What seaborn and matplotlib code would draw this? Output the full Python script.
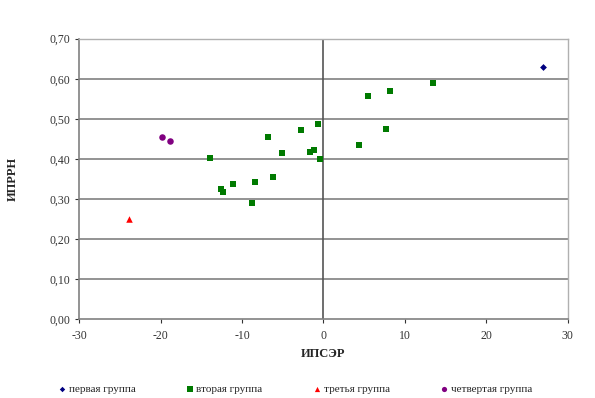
import pandas as pd
import numpy as np
import matplotlib.pyplot as plt
import matplotlib.ticker as mticker
import seaborn as sns

# --- данные ---
groups = ['первая группа', 'вторая группа', 'третья группа', 'четвертая группа']

x_first = [27.0]
y_first = [0.63]

x_second = [-13.9, -12.6, -12.3, -11.1, -8.75, -8.4, -6.8, -6.2, -5.1, -2.7,
            -1.6, -1.2, -0.7, -0.4, 4.4, 5.5, 7.7, 8.2, 13.4]
y_second = [0.402, 0.324, 0.317, 0.338, 0.291, 0.342, 0.455, 0.355, 0.416, 0.471,
            0.417, 0.423, 0.488, 0.401, 0.435, 0.558, 0.475, 0.570, 0.589]

x_third = [-23.9]
y_third = [0.25]

x_fourth = [-19.9, -18.9]
y_fourth = [0.454, 0.445]

df = pd.DataFrame({
    'ИПСЭР': x_first + x_second + x_third + x_fourth,
    'ИПРРН': y_first + y_second + y_third + y_fourth,
    'Группа': [groups[0]] * len(x_first) + [groups[1]] * len(x_second)
              + [groups[2]] * len(x_third) + [groups[3]] * len(x_fourth),
})

sns.set_style('white')
plt.rcParams['font.family'] = ['Liberation Serif', 'DejaVu Serif']
plt.rcParams['axes.unicode_minus'] = False

palette = {groups[0]: '#000080', groups[1]: '#007a00',
           groups[2]: '#ff0000', groups[3]: '#800080'}
markers = {groups[0]: 'D', groups[1]: 's', groups[2]: '^', groups[3]: 'o'}
sizes = {groups[0]: 12, groups[1]: 22, groups[2]: 22, groups[3]: 22}

fig = plt.figure(figsize=(5.95, 3.98), dpi=100)
ax = fig.add_axes([0.1333, 0.1977, 0.8207, 0.7051])

for ln in np.arange(0.1, 0.71, 0.1):
    ax.axhline(ln, color='#808080', lw=1.2, zorder=0)
ax.axvline(0, color='#555555', lw=1.2, zorder=0)

for g in groups:
    sub = df[df['Группа'] == g]
    sns.scatterplot(x='ИПСЭР', y='ИПРРН', data=sub, ax=ax, color=palette[g],
                    marker=markers[g], s=sizes[g], linewidth=0, label=g, zorder=3)

ax.set_xlim(-30, 30)
ax.set_ylim(0, 0.70)
ax.set_xticks(np.arange(-30, 31, 10))
ax.set_yticks(np.arange(0, 0.71, 0.1))
ax.yaxis.set_major_formatter(mticker.FuncFormatter(lambda v, p: f'{v:.2f}'.replace('.', ',')))
ax.tick_params(axis='both', labelsize=8.5, colors='#333333', length=3, direction='out',
               bottom=True, left=True)
ax.tick_params(axis='x', pad=5)

for side in ['top', 'right']:
    ax.spines[side].set_color('#b0b0b0')
    ax.spines[side].set_linewidth(1.0)
for side in ['left', 'bottom']:
    ax.spines[side].set_color('#808080')
    ax.spines[side].set_linewidth(1.2)

ax.set_xlabel('ИПСЭР', fontsize=9, fontweight='bold', labelpad=4)
ax.set_ylabel('ИПРРН', fontsize=9, fontweight='bold', labelpad=22)

ax.legend(loc='center', bbox_to_anchor=(0.44, -0.248), ncol=4, frameon=False,
          fontsize=8, handletextpad=0.1, handlelength=1.0, columnspacing=4.4,
          markerscale=0.8, borderpad=0)

plt.savefig('out.png', dpi=100)
